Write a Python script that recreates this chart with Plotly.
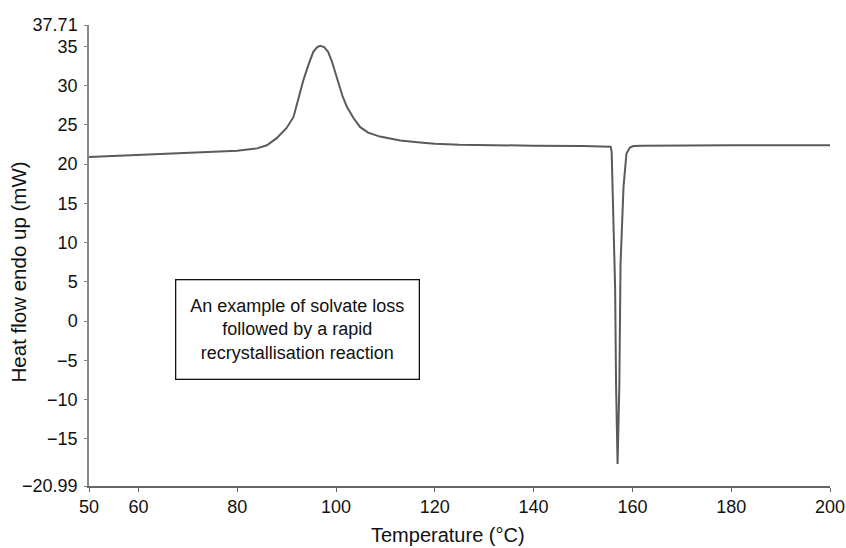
import plotly.graph_objects as go

# DSC trace: temperature (°C) and heat flow, endo up (mW)
temperature = [50, 60, 70, 80, 84, 86, 88, 90, 91.4, 92.4, 93.4, 94.4, 95.4, 96.2,
               96.8, 97.6, 98.4, 99.2, 100, 100.5, 101.3, 102.2, 103.5, 104.9,
               106.5, 108.9, 111, 113, 117, 120, 125, 130, 140, 150, 155, 155.6,
               155.8, 156.1, 156.5, 156.7, 157.0, 157.35, 157.6, 158.2, 158.8,
               159.5, 160.2, 162, 170, 180, 190, 200]
heat_flow = [20.9, 21.15, 21.4, 21.7, 22.0, 22.4, 23.3, 24.6, 26.0, 28.3, 30.7,
             32.6, 34.3, 34.9, 35.05, 34.9, 34.3, 33.0, 31.4, 30.3, 28.7, 27.3,
             25.9, 24.7, 24.0, 23.5, 23.2, 23.0, 22.75, 22.6, 22.45, 22.4, 22.35,
             22.3, 22.25, 22.2, 21.6, 15.0, 4.3, -8.4, -18.2, -8.4, 7.3, 17.1,
             21.35, 22.1, 22.3, 22.35, 22.4, 22.4, 22.4, 22.4]

x_ticks = [50, 60, 80, 100, 120, 140, 160, 180, 200]
y_ticks = [-20.99, -15, -10, -5, 0, 5, 10, 15, 20, 25, 30, 35, 37.71]
y_labels = ["\u221220.99", "\u221215", "\u221210", "\u22125", "0", "5", "10",
            "15", "20", "25", "30", "35", "37.71"]

note = "An example of solvate loss<br>followed by a rapid<br>recrystallisation reaction"

font_family = "Liberation Sans, Arial, Helvetica, sans-serif"
ink = "#111111"

fig = go.Figure()
fig.add_trace(go.Scatter(
    x=temperature, y=heat_flow, mode="lines",
    line=dict(color="#5a5a5a", width=2),
    showlegend=False, hoverinfo="x+y",
))

# boxed note
fig.add_annotation(
    x=92.3, y=-1.07, xref="x", yref="y",
    text=note, showarrow=False, align="center",
    font=dict(family=font_family, size=18, color=ink),
    bordercolor=ink, borderwidth=1.3, borderpad=0,
    width=242, height=98, bgcolor="white",
)

# axis titles
fig.add_annotation(
    x=0.4845, y=-0.1055, xref="paper", yref="paper",
    xanchor="center", yanchor="middle", showarrow=False,
    text="Temperature (\u00b0C)", font=dict(family=font_family, size=20, color=ink),
)
fig.add_annotation(
    x=-0.0945, y=0.4653, xref="paper", yref="paper",
    xanchor="center", yanchor="middle", showarrow=False, textangle=-90,
    text="Heat flow endo up (mW)", font=dict(family=font_family, size=20.5, color=ink),
)

fig.update_layout(
    width=846, height=548, autosize=False,
    margin=dict(l=89, r=16, t=25, b=62),
    paper_bgcolor="white", plot_bgcolor="white",
    font=dict(family=font_family, size=18, color=ink),
    xaxis=dict(
        range=[50, 200], tickvals=x_ticks, ticktext=[str(v) for v in x_ticks],
        showgrid=False, zeroline=False, automargin=False,
        showline=True, linecolor="#666", linewidth=1.5,
        ticks="outside", ticklen=4, tickcolor="#666", tickwidth=1,
        tickfont=dict(size=18),
    ),
    yaxis=dict(
        range=[-20.99, 37.71], tickvals=y_ticks, ticktext=y_labels,
        showgrid=False, zeroline=False, automargin=False,
        showline=True, linecolor="#888", linewidth=1.5,
        ticks="outside", ticklen=3, tickcolor="#888", tickwidth=1,
        tickfont=dict(size=18), ticklabelstandoff=3,
    ),
)

fig.write_html("out.html", config={"responsive": False})
